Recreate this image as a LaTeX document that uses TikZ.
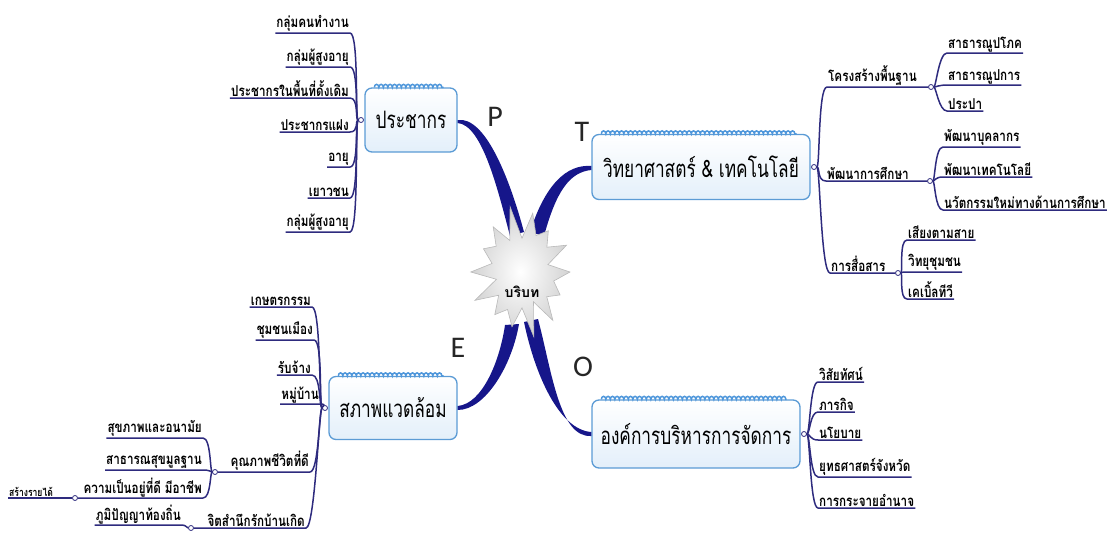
\documentclass[tikz,border=0pt]{standalone}
\usepackage{fontspec}
\setmainfont{Carlito}
\newfontfamily\thaifont[Script=Thai]{Loma}
\newfontfamily\thainarrow[Script=Thai,FakeStretch=0.78]{Loma}
\newfontfamily\thaibox[Script=Thai,FakeStretch=0.72]{Loma}
\usetikzlibrary{calc,decorations.pathmorphing}
\definecolor{navy}{HTML}{16168A}
\definecolor{twigcol}{HTML}{2E2B7E}
\definecolor{boxline}{HTML}{5B9BD5}
\definecolor{boxfill}{HTML}{E3EFFA}
\definecolor{scallopblue}{HTML}{4F97DB}
\newcommand{\topicfont}{\thaibox\fontsize{24}{26}\selectfont}
\newcommand{\leaffont}{\thainarrow\bfseries\fontsize{15}{16}\selectfont}
\newcommand{\smallleaf}{\thainarrow\bfseries\fontsize{11}{12}\selectfont}
\tikzset{
  topic/.style={draw=boxline, line width=1.3pt, rounded corners=7pt,
    top color=white, bottom color=boxfill, font=\topicfont, inner sep=0pt},
  scallops/.style={draw=scallopblue, line width=1.5pt, decorate,
    decoration={bumps, segment length=9pt, amplitude=3pt}},
  hub/.style={circle, draw=twigcol, fill=white, line width=0.8pt,
    inner sep=0pt, minimum size=5pt},
  twig/.style={draw=twigcol, line width=1.5pt},
  leafL/.style={font=\leaffont, anchor=south east, inner xsep=1pt, inner ysep=1pt},
  leafR/.style={font=\leaffont, anchor=south west, inner xsep=1pt, inner ysep=1pt},
  trunk/.style={fill=navy},
  burst/.style={draw=gray!55, line width=0.6pt, inner color=white, outer color=gray!35},
  letter/.style={font=\fontsize{30}{30}\selectfont, text=black!85}
}
\begin{document}
\begin{tikzpicture}[x=1pt,y=-1pt]
  \useasboundingbox (0,0) rectangle (1112,538);

  % main topics
  \node[topic, minimum width=92pt, minimum height=64pt] (pop) at (411,120) {ประชากร};
  \node[topic, minimum width=218pt, minimum height=65pt] (sci) at (701,167) {วิทยาศาสตร์ \& เทคโนโลยี};
  \node[topic, minimum width=128pt, minimum height=63pt] (env) at (393,408) {สภาพแวดล้อม};
  \node[topic, minimum width=208pt, minimum height=68pt] (org) at (696,434) {องค์การบริหารการจัดการ};
  \foreach \b in {pop,sci,env,org}
    \draw[scallops] ($(\b.north west)+(10,0)$) -- ($(\b.north east)+(-14,0)$);

  \node[letter] (letP) at (495,117) {P};
  \node[letter] (letT) at (582,132) {T};
  \node[letter] (letE) at (458,348) {E};
  \node[letter] (letO) at (583,367) {O};

  % centre
  \coordinate (mid) at (522,272);
  \fill[trunk] (pop.east) .. controls +(28,-4) and +(-14,-52) .. ($(mid)+(2,-40)$)
    -- ($(mid)+(-12,-36)$) .. controls +(-13,-50) and +(24,2) .. ($(pop.east)+(0,3)$) -- cycle;
  \fill[trunk] ($(sci.west)+(0,-1)$) .. controls +(-25,-2) and +(15,-47) .. ($(mid)+(8,-40)$)
    -- ($(mid)+(22,-36)$) .. controls +(12,-44) and +(-22,2) .. ($(sci.west)+(0,3)$) -- cycle;
  \fill[trunk] ($(env.east)+(0,-2)$) .. controls +(25,-2) and +(-5,35) .. ($(mid)+(-17,53)$)
    -- ($(mid)+(-3,52)$) .. controls +(-7,41) and +(28,0) .. ($(env.east)+(0,2)$) -- cycle;
  \fill[trunk] ($(mid)+(2,50)$) .. controls +(11,53) and +(-32,-2) .. ($(org.west)+(0,-2)$)
    -- ($(org.west)+(0,2)$) .. controls +(-32,2) and +(14,53) .. ($(mid)+(16,47)$) -- cycle;
  \path[burst] plot[samples at={0,...,27}]
    ({522+48*(1-0.38*mod(\x,2))*(1+0.12*sin(\x*131))*cos(\x*360/28)},
     {272+60*(1-0.38*mod(\x,2))*(1+0.12*sin(\x*131))*sin(\x*360/28)}) -- cycle;
  \node[font=\thaifont\bfseries\fontsize{14}{14}\selectfont] (ctx) at (522,292) {บริบท};

  % P
  \node[hub] (popHub) at (361,120) {};
  \foreach \i/\y/\lab in {1/33/กลุ่มคนทำงาน, 2/67/กลุ่มผู้สูงอายุ, 3/98/ประชากรในพื้นที่ดั้งเดิม,
      4/132/ประชากรแฝง, 5/167/อายุ, 6/198/เยาวชน, 7/232/กลุ่มผู้สูงอายุ}{
    \node[leafL] (pop\i) at (350,\y) {\lab};
    \draw[twig] (popHub) .. controls +(-6,0) and +(9,0) .. (pop\i.south east) -- (pop\i.south west);
  }

  % T
  \node[hub] (sciHub) at (814,167) {};
  \foreach \k/\x/\y/\hx/\lab in {1/827/87/931/โครงสร้างพื้นฐาน, 2/826/181/930/พัฒนาการศึกษา,
      3/830/273/898/การสื่อสาร}{
    \node[leafR] (sci\k) at (\x,\y) {\lab};
    \node[hub] (sciHub\k) at (\hx,\y) {};
    \draw[twig] (sciHub) .. controls +(6,0) and +(-9,0) .. (sci\k.south west) -- (sciHub\k);
  }
  \foreach \k/\x/\y/\lab in {1/947/53/สาธารณูปโภค, 1/947/85/สาธารณูปการ, 1/947/111/ประปา,
      2/943/147/พัฒนาบุคลากร, 2/943/177/พัฒนาเทคโนโลยี, 2/943/210/นวัตกรรมใหม่ทางด้านการศึกษา,
      3/907/240/เสียงตามสาย, 3/907/272/วิทยุชุมชน, 3/907/299/เคเบิ้ลทีวี}{
    \node[leafR] (sci\k-\y) at (\x,\y) {\lab};
    \draw[twig] (sciHub\k) .. controls +(5,0) and +(-8,0) .. (sci\k-\y.south west) -- (sci\k-\y.south east);
  }

  % O
  \node[hub] (orgHub) at (804,434) {};
  \foreach \i/\y/\lab in {1/382/วิสัยทัศน์, 2/412/ภารกิจ, 3/440/นโยบาย,
      4/477/ยุทธศาสตร์จังหวัด, 5/508/การกระจายอำนาจ}{
    \node[leafR] (org\i) at (818,\y) {\lab};
    \draw[twig] (orgHub) .. controls +(6,0) and +(-8,0) .. (org\i.south west) -- (org\i.south east);
  }

  % E
  \node[hub] (envHub) at (325,408) {};
  \foreach \i/\x/\y/\lab in {1/312/307/เกษตรกรรม, 2/314/340/ชุมชนเมือง, 3/312/375/รับจ้าง, 4/320/404/หมู่บ้าน}{
    \node[leafL] (envL\i) at (\x,\y) {\lab};
    \draw[twig] (envHub) .. controls +(-6,0) and +(9,0) .. (envL\i.south east) -- (envL\i.south west);
  }
  \foreach \k/\x/\y/\hx/\lab in {1/310/472/215/คุณภาพชีวิตที่ดี, 2/306/528/191/จิตสำนึกรักบ้านเกิด}{
    \node[leafL] (envS\k) at (\x,\y) {\lab};
    \node[hub] (envHub\k) at (\hx,\y) {};
    \draw[twig] (envHub) .. controls +(-6,0) and +(9,0) .. (envS\k.south east) -- (envHub\k);
  }
  \foreach \y/\lab in {438/สุขภาพและอนามัย, 470/สาธารณสุขมูลฐาน}{
    \node[leafL] (envQ\y) at (203,\y) {\lab};
    \draw[twig] (envHub1) .. controls +(-5,0) and +(8,0) .. (envQ\y.south east) -- (envQ\y.south west);
  }
  \node[leafL] (envW) at (203,498) {ความเป็นอยู่ที่ดี มีอาชีพ};
  \node[hub] (envHubW) at (75,498) {};
  \draw[twig] (envHub1) .. controls +(-5,0) and +(8,0) .. (envW.south east) -- (envHubW);
  \node[leafR, font=\smallleaf] (envInc) at (8,498) {สร้างรายได้};
  \draw[twig] (envHubW) -- (envInc.south west);
  \node[leafL] (envLoc) at (182,525) {ภูมิปัญญาท้องถิ่น};
  \draw[twig] (envHub2) .. controls +(-4,0) and +(4,0) .. (envLoc.south east) -- (envLoc.south west);
\end{tikzpicture}
\end{document}
